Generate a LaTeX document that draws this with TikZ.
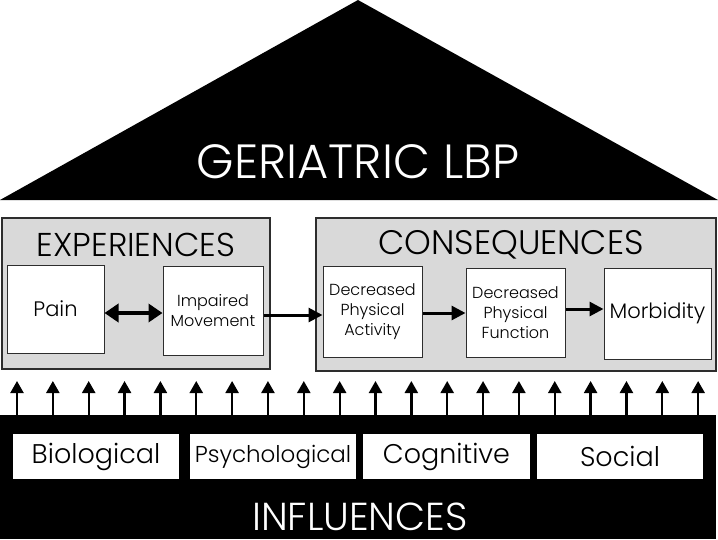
\documentclass[tikz,border=0pt]{standalone}
\usepackage{fontspec}
\setmainfont{Poppins Light}
\usetikzlibrary{arrows.meta}
\definecolor{panel}{RGB}{217,217,217}
\definecolor{edge}{RGB}{45,45,45}
\tikzset{
  panelbox/.style={draw=edge, line width=1.5pt, fill=panel, inner sep=0pt},
  itembox/.style={draw=edge, line width=1pt, fill=white, inner sep=0pt, align=center, font=\fontsize{16}{20}\selectfont},
  inflbox/.style={fill=white, inner sep=0pt, minimum height=45pt, font=\fontsize{27}{30}\selectfont},
  flow/.style={line width=3pt, -{Triangle[length=14pt,width=14pt]}},
  twoway/.style={line width=4.5pt, {Triangle[length=14pt,width=18pt]}-{Triangle[length=14pt,width=18pt]}},
  uparrow/.style={line width=2.3pt, -{Triangle[length=12pt,width=13pt]}},
}
\begin{document}
\begin{tikzpicture}[x=1pt,y=-1pt]
\useasboundingbox (0,0) rectangle (718,539);
% roof
\fill[black] (0,200) -- (358,0) -- (718,200) -- cycle;
\node[text=white, inner sep=0pt, anchor=base, font=\fontsize{48}{50}\selectfont] (title) at (358,178) {GERIATRIC LBP};
% experiences panel
\node[panelbox, minimum width=268pt, minimum height=151pt] (exp) at (136,293.5) {};
\node[font=\fontsize{33}{36}\selectfont] (exptitle) at (136,245) {EXPERIENCES};
\node[itembox, minimum width=97pt, minimum height=88pt] (pain) at (55.5,309) {\fontsize{21}{24}\selectfont Pain};
\node[itembox, minimum width=100pt, minimum height=89pt] (imp) at (213,310.5) {Impaired\\Movement};
% consequences panel
\node[panelbox, minimum width=400pt, minimum height=153pt] (cons) at (516,294.5) {};
\node[font=\fontsize{34}{36}\selectfont] (constitle) at (511,245) {CONSEQUENCES};
\node[itembox, minimum width=99pt, minimum height=91pt] (dpa) at (372.5,311.5) {Decreased\\Physical\\Activity};
\node[itembox, minimum width=99pt, minimum height=89pt] (dpf) at (515.5,312.5) {Decreased\\Physical\\Function};
\node[itembox, minimum width=107pt, minimum height=91pt] (morb) at (657.5,313.5) {\fontsize{21}{24}\selectfont Morbidity};
% connectors
\draw[twoway] ([yshift=-4pt]pain.east) -- ([yshift=-2.5pt]imp.west);
\draw[flow] ([yshift=-4.5pt]imp.east) -- ([yshift=-3.5pt]dpa.west);
\draw[flow] ([yshift=-1.5pt]dpa.east) -- ([yshift=-0.5pt]dpf.west);
\draw[flow] ([yshift=3.5pt]dpf.east) -- ([yshift=4.5pt]morb.west);
% influences base
\node[fill=black, inner sep=0pt, minimum width=716pt, minimum height=124pt] (base) at (358,477) {};
\node[text=white, inner sep=0pt, anchor=base, font=\fontsize{39}{42}\selectfont] (infl) at (360,530) {INFLUENCES};
\node[inflbox, minimum width=166pt] (bio) at (96,456.5) {Biological};
\node[inflbox, minimum width=166pt, font=\fontsize{23}{26}\selectfont] (psy) at (273,456.5) {Psychological};
\node[inflbox, minimum width=167pt] (cog) at (446.5,456.5) {Cognitive};
\node[inflbox, minimum width=166pt] (soc) at (620,456.5) {Social};
% upward arrows
\foreach \i in {0,...,19}{
  \coordinate (tip\i) at ({17+\i*35.85},381);
  \draw[uparrow] (tip\i |- base.north) -- (tip\i);
}
\end{tikzpicture}
\end{document}
